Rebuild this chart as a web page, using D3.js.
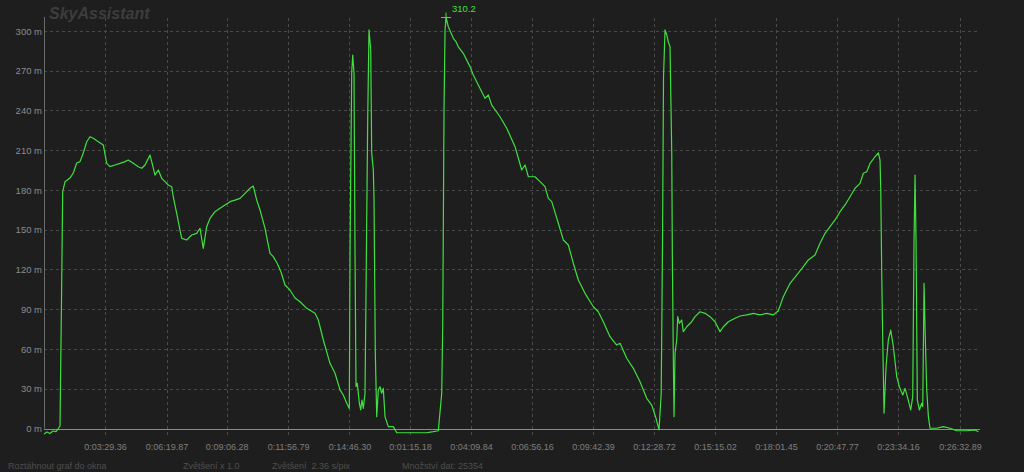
<!DOCTYPE html>
<html>
<head>
<meta charset="utf-8">
<script src="https://cdn.jsdelivr.net/npm/d3@7"></script>
<style>
  html, body { margin: 0; padding: 0; background: #1e1e1e; }
  svg { display: block; }
  text { font-family: Arial, "Liberation Sans", sans-serif; }
</style>
</head>
<body>
<svg id="chart" width="1024" height="472"></svg>
<script>
// ---- data (elapsed seconds, altitude in metres) ----
const times = [40.4,48.7,57,65.3,73.6,79.2,84.7,88.9,92.2,98.6,112.4,121.5,131,140.1,149.2,158.7,167.8,176.9,190.8,204.6,214.1,223.2,237,250.9,264.8,273.9,287.7,301.6,311,320.2,324.9,334,338.7,347.9,357,366.4,375.6,384.7,394.1,398.5,408,417.1,421.8,435.7,449.5,463.4,472.5,481.6,491,500.2,514,527.9,541.8,555.6,569.5,583.3,597.2,611,620.1,629.6,638.7,652.6,666.4,675.5,685.8,696.9,707.9,721.8,735.7,749.5,768.1,791.1,800.2,814.1,832.6,846.5,860.3,869.4,878.9,886.1,888,892.7,895.5,899.1,901.9,904.6,908.2,913.8,917.6,921.2,924.9,929.6,934.3,937,940.6,945.4,948.1,952.6,954.5,958.1,962,966.4,971.1,975.8,980.2,985,994.1,1007.9,1017.4,1054.2,1100.4,1118.8,1132.6,1142,1144.8,1148.4,1151.2,1154,1160.3,1174.1,1181.6,1188,1201.8,1220.4,1229.5,1243.4,1261.9,1271.1,1280.5,1303.5,1322.1,1345.1,1363.6,1372.8,1382,1400.5,1414.3,1428.2,1437.3,1446.7,1465,1478.8,1492.7,1506.6,1520.4,1539,1562,1575.8,1589.6,1608.2,1626.7,1635.9,1654.5,1672.8,1691.3,1709.9,1723.7,1735.6,1743.9,1750,1753.6,1756.4,1760.6,1765.3,1769.7,1774.4,1779.2,1780.8,1783.6,1785.5,1788.3,1793,1795.7,1800.1,1806.8,1811.2,1820.7,1834.5,1843.7,1857.5,1871.4,1885.2,1899.1,1912.9,1922.1,1935.9,1954.5,1968.3,1986.9,2005.2,2023.7,2042.3,2060.6,2074.4,2088.3,2106.8,2125.3,2143.6,2157.5,2176.1,2189.9,2203.8,2217.6,2231.5,2245.3,2259.2,2273,2286.9,2300.7,2309.9,2319.3,2328.4,2342.3,2351.5,2356.1,2358.1,2360.8,2363.6,2367.2,2372.7,2379.1,2385.8,2393,2402.4,2409.6,2419,2425.4,2431.7,2441.1,2446.7,2450.3,2453.1,2455.8,2459.4,2465,2471.6,2474.4,2478,2481.6,2485.5,2490,2494.6,2513.1,2531.4,2550,2568.5,2596.2,2619.3,2628.5];
const altitudes = [-4.2,-2.6,-3.8,-1.9,-2.3,-0.4,1.9,97,178.7,186.3,189,192.8,200.4,201.4,207.9,216.4,220.2,219,216.4,214,200.1,197.6,198.9,200.1,201.4,202.6,200.1,197.6,196.4,198.9,201.4,206.4,201.4,191.2,195.1,188.8,186.3,183.8,182.5,174.9,162.4,149.8,143.5,142.3,146,147.3,151.1,136,152.3,158.6,163.6,166.2,168.7,171.2,172.4,173.7,177.5,181.3,183,172.4,164.9,151.1,132.2,129.7,124.9,118.1,108.3,104.5,98.5,95.7,90.7,86.9,81.9,66.8,49.2,41.7,29.1,25.3,19,15.2,132.5,268.1,281.9,268.1,132.5,31.5,34.1,19.2,14,21.5,15.2,26.6,157.4,232.8,300.8,285.7,207.7,195.1,172.4,56.8,8.9,29.1,31.5,26.6,30.3,8.9,1.4,1.4,-3.2,-3.2,-3.2,-2.4,-1.7,26.6,76.8,240.4,300.8,310.2,303.2,294.5,291.9,288.1,283.2,273.1,266.8,259.2,249.2,251.7,244.1,235.3,226.6,212.7,195.1,198.9,190,190,186.3,182.5,173.7,171.2,154.9,142.3,138.5,124.7,112.1,102,91.9,88.1,80.6,69.3,63,64.3,53,45.4,35.3,22.8,17.7,7.7,-1.1,26.6,139.8,265.5,300.8,297,291.7,288.1,207.7,132.2,51.7,8.9,56.8,66.8,84.4,79.4,81.9,73.1,76.8,80.6,84.4,88.1,86.9,84.4,80.6,73.1,76.8,80.6,83.2,84.9,85.7,86.9,85.7,86.9,85.7,88.9,99.5,109.6,115.8,122.1,127.2,130.9,139.8,147.3,152.3,157.4,163.6,168.7,174.9,181.3,185,192.6,193.8,200.1,205.1,208.1,202.6,180,117.1,66.8,11.5,46.6,66.8,74.3,61.7,39.1,31.5,25.3,30.3,24,14,24,142.3,191.3,142.3,21.5,14,19,16.5,109.6,66.8,29.1,8.9,0.2,0.2,1.4,0.2,-1.7,-1.7,-1.1,-2.4];

const yTicks = [0,30,60,90,120,150,180,210,240,270,300];
const xTickSec = [209.36,379.87,546.28,716.79,886.30,1054.2,1223.2,1392.2,1561.1,1730.1,1899.1,2068.0,2237.0,2406.0,2577.7];
const xTickLabels = ["0:03:29.36","0:06:19.87","0:09:06.28","0:11:56.79","0:14:46.30","0:01:15.18","0:04:09.84","0:06:56.16","0:09:42.39","0:12:28.72","0:15:15.02","0:18:01.45","0:20:47.77","0:23:34.16","0:26:32.89"];
const peakTime = 1154, peakAlt = 310.2;
const statusTexts = ["Roztáhnout graf do okna","Zvětšení x 1.0","Zvětšení  2.36 s/pix","Množství dat: 25354"];
const chartTitle = "SkyAssistant";

(function draw() {
  const svg = d3.select("#chart");
  const W = 1024, H = 472;
  const plotL = 44, plotR = 980, plotT = 31, zeroY = 428.5;
  svg.append("rect").attr("width", W).attr("height", H).attr("fill", "#1e1e1e");

  const x = d3.scaleLinear().domain([40.4, 2633]).range([plotL, plotR]);
  const y = d3.scaleLinear().domain([0, 300]).range([zeroY, plotT]);

  // title
  svg.append("text").attr("x", 49).attr("y", 19).text(chartTitle)
    .attr("font-size", 16).attr("font-weight", "bold").attr("font-style", "italic")
    .attr("fill", "#3d3d3d");

  // horizontal grid
  svg.append("g").selectAll("line").data(yTicks.filter(d => d > 0)).join("line")
    .attr("x1", plotL).attr("x2", plotR)
    .attr("y1", d => Math.round(y(d)) + 0.5).attr("y2", d => Math.round(y(d)) + 0.5)
    .attr("stroke", "#4a4a4a").attr("stroke-dasharray", "3,3");

  // vertical grid
  svg.append("g").selectAll("line").data(xTickSec).join("line")
    .attr("x1", d => Math.round(x(d)) + 0.5).attr("x2", d => Math.round(x(d)) + 0.5)
    .attr("y1", 18).attr("y2", 436)
    .attr("stroke", "#4a4a4a").attr("stroke-dasharray", "3,3");

  // zero line
  svg.append("line").attr("x1", plotL).attr("x2", plotR)
    .attr("y1", Math.round(zeroY) + 0.5).attr("y2", Math.round(zeroY) + 0.5)
    .attr("stroke", "#8a8a8a").attr("stroke-width", 1);

  // y axis
  const yAxis = d3.axisLeft(y).tickValues(yTicks).tickFormat(d => d + " m").tickSize(0).tickPadding(2);
  const gy = svg.append("g").attr("transform", `translate(${plotL},0)`).call(yAxis);
  gy.select(".domain").remove();
  gy.selectAll("text").attr("fill", "#8c8c8c").attr("font-size", 9.5)
    .attr("font-family", "Arial, 'Liberation Sans', sans-serif");
  svg.append("line").attr("x1", plotL + 0.5).attr("x2", plotL + 0.5).attr("y1", 17).attr("y2", zeroY)
    .attr("stroke", "#6a6a6a");

  // x axis
  const xAxis = d3.axisBottom(x).tickValues(xTickSec).tickFormat((d, i) => xTickLabels[i]).tickSize(0).tickPadding(0);
  const gx = svg.append("g").attr("transform", `translate(0,444)`).call(xAxis);
  gx.select(".domain").remove();
  gx.selectAll("text").attr("fill", "#7e7e7e").attr("font-size", 9)
    .attr("font-family", "Arial, 'Liberation Sans', sans-serif");

  // line
  const data = times.map((t, i) => [t, altitudes[i]]);
  const line = d3.line().x(d => x(d[0])).y(d => y(d[1]));
  svg.append("path").datum(data).attr("d", line)
    .attr("fill", "none").attr("stroke", "#3fe03f").attr("stroke-width", 1.2)
    .attr("stroke-linejoin", "round");

  // peak marker
  const px = x(peakTime), py = y(peakAlt);
  svg.append("line").attr("x1", px - 5).attr("x2", px + 5).attr("y1", py).attr("y2", py).attr("stroke", "#3fe03f");
  svg.append("line").attr("x1", px).attr("x2", px).attr("y1", py - 5).attr("y2", py + 5).attr("stroke", "#3fe03f");
  svg.append("text").attr("x", px + 6).attr("y", py - 5).text(peakAlt.toFixed(1))
    .attr("fill", "#3fe03f").attr("font-size", 9.5);

  // status bar
  const statusX = [8, 183, 272, 402];
  svg.append("g").selectAll("text").data(statusTexts).join("text")
    .attr("x", (d, i) => statusX[i]).attr("y", 469).text(d => d)
    .attr("fill", "#4e4e4e").attr("font-size", 9)
    .style("white-space", "pre");
})();
</script>
</body>
</html>
